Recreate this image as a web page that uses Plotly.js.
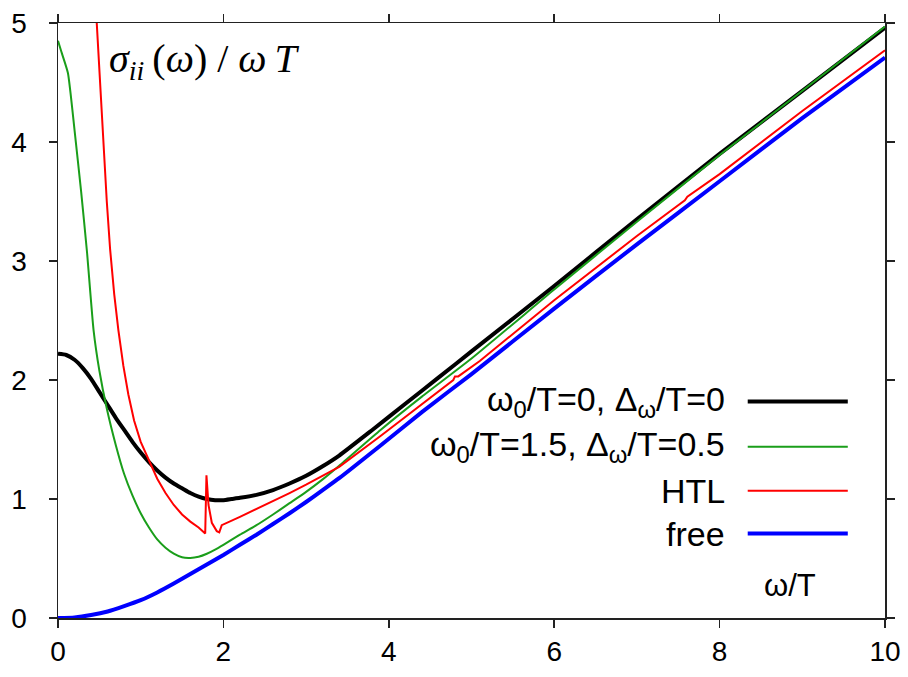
<!DOCTYPE html>
<html>
<head>
<meta charset="utf-8">
<script src="https://cdn.plot.ly/plotly-3.0.1.min.js"></script>
<style>html,body{margin:0;padding:0;background:#fff;}#chart{width:908px;height:677px;}</style>
</head>
<body>
<div id="chart"></div>
<script>
// ---- data ----
const xBlack = [0, 0.1, 0.2, 0.3, 0.4, 0.5, 0.6, 0.7, 0.8, 0.9, 1.0, 1.1, 1.2, 1.3, 1.4, 1.5, 1.6, 1.7, 1.8, 1.9, 2.0, 2.1, 2.2, 2.4, 2.6, 2.8, 3.0, 3.2, 3.4, 3.8, 4.2, 4.6, 5.0, 6.0, 7.0, 8.0, 9.0, 10.0];
const yBlack = [2.22, 2.21, 2.17, 2.10, 2.01, 1.90, 1.79, 1.68, 1.58, 1.48, 1.39, 1.31, 1.24, 1.18, 1.13, 1.09, 1.05, 1.02, 1.00, 0.99, 0.99, 1.00, 1.01, 1.035, 1.075, 1.13, 1.195, 1.275, 1.365, 1.58, 1.80, 2.02, 2.24, 2.79, 3.35, 3.90, 4.43, 4.96];

const xGreen = [0, 0.04, 0.12, 0.2, 0.28, 0.35, 0.43, 0.5, 0.59, 0.7, 0.8, 0.9, 1.0, 1.1, 1.2, 1.3, 1.4, 1.5, 1.6, 1.7, 1.8, 1.9, 2.0, 2.2, 2.4, 2.6, 2.8, 3.0, 3.2, 3.4, 3.9, 4.4, 5.0, 6.0, 7.0, 8.0, 9.0, 10.0];
const yGreen = [4.85, 4.76, 4.58, 4.10, 3.58, 3.08, 2.42, 2.08, 1.76, 1.45, 1.21, 1.03, 0.88, 0.76, 0.66, 0.59, 0.54, 0.51, 0.505, 0.515, 0.54, 0.575, 0.615, 0.70, 0.78, 0.87, 0.965, 1.06, 1.165, 1.28, 1.58, 1.86, 2.18, 2.76, 3.33, 3.89, 4.43, 4.97];

const xRed = [0.42, 0.467, 0.51, 0.55, 0.59, 0.63, 0.68, 0.73, 0.79, 0.85, 0.92, 1.0, 1.1, 1.2, 1.3, 1.4, 1.5, 1.6, 1.7, 1.78, 1.795, 1.82, 1.86, 1.92, 1.95, 1.98, 2.2, 2.4, 2.6, 2.8, 3.0, 3.4, 3.9, 4.4, 4.78, 4.80, 4.84, 5.1, 6.0, 7.0, 7.58, 7.61, 8.0, 9.0, 10.0];
const yRed = [5.6, 5.0, 4.45, 3.95, 3.50, 3.10, 2.72, 2.42, 2.12, 1.88, 1.66, 1.48, 1.32, 1.17, 1.05, 0.95, 0.87, 0.81, 0.76, 0.71, 1.20, 0.95, 0.80, 0.73, 0.72, 0.78, 0.85, 0.915, 0.98, 1.05, 1.12, 1.27, 1.53, 1.80, 2.00, 2.03, 2.03, 2.16, 2.67, 3.21, 3.51, 3.54, 3.73, 4.26, 4.77];

const xBlue = [0, 0.2, 0.4, 0.6, 0.8, 1.0, 1.2, 1.4, 1.6, 1.8, 2.0, 2.2, 2.4, 2.6, 2.8, 3.0, 3.2, 3.4, 3.9, 4.4, 5.0, 6.0, 7.0, 8.0, 9.0, 10.0];
const yBlue = [0.0, 0.005, 0.025, 0.055, 0.10, 0.15, 0.215, 0.29, 0.37, 0.45, 0.53, 0.615, 0.70, 0.79, 0.88, 0.975, 1.075, 1.175, 1.45, 1.73, 2.05, 2.60, 3.14, 3.67, 4.20, 4.71];

const seriesNames = ["ω<sub>0</sub>/T=0, Δ<sub>ω</sub>/T=0", "ω<sub>0</sub>/T=1.5, Δ<sub>ω</sub>/T=0.5", "HTL", "free"];
const xTicks = [0, 2, 4, 6, 8, 10];
const yTicks = [0, 1, 2, 3, 4, 5];

// ---- styling ----
const colors = ["#000000", "#1a9e1a", "#ff0000", "#0000ff"];
const widths = [4, 2, 2, 4];
const shapesLine = ["spline", "spline", "linear", "spline"];
const xs = [xBlack, xGreen, xRed, xBlue];
const ys = [yBlack, yGreen, yRed, yBlue];

const traces = xs.map((x, i) => ({
  x: x, y: ys[i], type: "scatter", mode: "lines", name: seriesNames[i],
  line: {color: colors[i], width: widths[i], shape: shapesLine[i], smoothing: 0.5},
  showlegend: false, hoverinfo: "skip"
}));

// legend text right edge & sample line positions (data coords)
const legTextX = 8.09, legLine0 = 8.34, legLine1 = 9.55;
const legY = [1.82, 1.44, 1.07, 0.71];
const sans = "Liberation Sans, Arial, sans-serif";

const annotations = [
  {x: 0.59, y: 4.68, xref: "x", yref: "y", xanchor: "left", yanchor: "middle", showarrow: false,
   text: "<i>σ</i><sub><i>ii</i></sub>\u2009(<i>ω</i>) / <i>ω\u2009T</i>",
   font: {family: "Liberation Serif, Times New Roman, serif", size: 40, color: "#000"}},
  {x: 8.85, y: 0.27, xref: "x", yref: "y", xanchor: "center", yanchor: "middle", showarrow: false,
   text: "ω/T", font: {family: sans, size: 31, color: "#000"}}
];
const shapes = [];
seriesNames.forEach((n, i) => {
  annotations.push({x: legTextX, y: legY[i], xref: "x", yref: "y", xanchor: "right", yanchor: "middle",
    showarrow: false, text: n, font: {family: sans, size: 34, color: "#000"}});
  shapes.push({type: "line", xref: "x", yref: "y", x0: legLine0, x1: legLine1, y0: legY[i], y1: legY[i],
    line: {color: colors[i], width: widths[i]}});
});

const axisCommon = {
  showgrid: false, zeroline: false, showline: true, linecolor: "#222", linewidth: 1.5,
  mirror: "ticks", ticks: "outside", ticklen: 8, tickwidth: 1.5, tickcolor: "#222",
  tickfont: {family: sans, size: 28, color: "#000"}
};

const layout = {
  width: 908, height: 677,
  margin: {l: 58, r: 23, t: 23, b: 59},
  paper_bgcolor: "#fff", plot_bgcolor: "#fff",
  xaxis: Object.assign({}, axisCommon, {range: [0, 10], tickvals: xTicks, ticktext: xTicks.map(String)}),
  yaxis: Object.assign({}, axisCommon, {range: [0, 5], tickvals: yTicks, ticktext: yTicks.map(String), ticklabelstandoff: 16}),
  annotations: annotations,
  shapes: shapes,
  showlegend: false
};

Plotly.newPlot("chart", traces, layout, {displayModeBar: false, staticPlot: true});
</script>
</body>
</html>
